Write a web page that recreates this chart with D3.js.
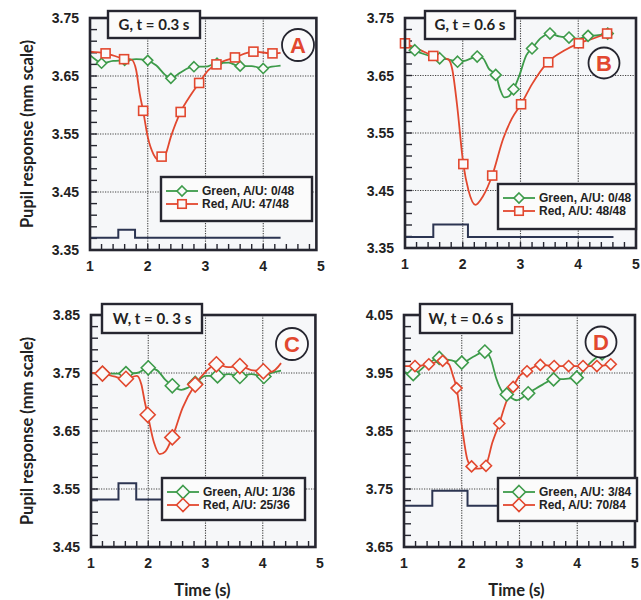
<!DOCTYPE html>
<html>
<head>
<meta charset="utf-8">
<script src="https://cdn.jsdelivr.net/npm/d3@7"></script>
<style>
  body { margin: 0; background: #fff; }
  svg { display: block; }
  .tick-lab { font-family: "Liberation Sans", Arial, sans-serif; font-weight: bold; font-size: 14px; fill: #222; }
  .leg { font-family: "Liberation Sans", Arial, sans-serif; font-weight: bold; font-size: 12px; fill: #222; }
  .ttl { font-family: Lato, "Open Sans", sans-serif; font-weight: bold; font-size: 15px; fill: #222; }
</style>
</head>
<body>
<div id="chart"></div>
<script>
// ---- data ----
// time axis ticks
var xTicks = [1, 2, 3, 4, 5];

// panel A : G, t = 0.3 s
var aRedLineT = [1.0, 1.27, 1.59, 1.72, 1.8, 1.86, 1.92, 2.0, 2.1, 2.2, 2.3, 2.4, 2.57, 2.75, 2.89, 3.05, 3.19, 3.51, 3.83, 4.16, 4.3];
var aRedLineV = [3.692, 3.689, 3.680, 3.678, 3.66, 3.62, 3.59, 3.545, 3.515, 3.505, 3.513, 3.545, 3.588, 3.618, 3.638, 3.660, 3.670, 3.682, 3.692, 3.689, 3.690];
var aGreenLineT = [1.0, 1.1, 1.2, 1.4, 1.59, 1.8, 1.98, 2.15, 2.3, 2.4, 2.55, 2.79, 3.0, 3.19, 3.4, 3.58, 3.8, 4.0, 4.15, 4.3];
var aGreenLineV = [3.686, 3.678, 3.672, 3.676, 3.677, 3.679, 3.677, 3.668, 3.652, 3.646, 3.655, 3.666, 3.666, 3.672, 3.673, 3.667, 3.667, 3.663, 3.666, 3.668];
var aRedMarkT = [1.27, 1.59, 1.92, 2.24, 2.57, 2.89, 3.19, 3.51, 3.83, 4.16];
var aRedMarkV = [3.689, 3.679, 3.590, 3.511, 3.588, 3.638, 3.670, 3.682, 3.692, 3.689];
var aGreenMarkT = [1.2, 1.6, 2.0, 2.4, 2.8, 3.2, 3.6, 4.0];
var aGreenMarkV = [3.672, 3.677, 3.677, 3.646, 3.666, 3.672, 3.667, 3.663];
var aStimT = [1.0, 1.49, 1.49, 1.78, 1.78, 4.3];
var aStimV = [3.371, 3.371, 3.385, 3.385, 3.371, 3.371];

// panel B : G, t = 0.6 s
var bRedLineT = [1.0, 1.25, 1.49, 1.75, 1.82, 1.9, 2.01, 2.1, 2.22, 2.35, 2.51, 2.7, 2.85, 3.01, 3.2, 3.47, 3.75, 4.01, 4.25, 4.5];
var bRedLineV = [3.706, 3.695, 3.684, 3.678, 3.66, 3.60, 3.496, 3.45, 3.425, 3.44, 3.476, 3.54, 3.575, 3.600, 3.635, 3.673, 3.693, 3.706, 3.714, 3.723];
var bGreenLineT = [1.0, 1.17, 1.4, 1.6, 1.75, 1.91, 2.05, 2.25, 2.35, 2.45, 2.57, 2.65, 2.72, 2.8, 2.88, 2.98, 3.1, 3.2, 3.35, 3.51, 3.67, 3.84, 4.0, 4.17, 4.35, 4.51];
var bGreenLineV = [3.706, 3.694, 3.685, 3.680, 3.678, 3.674, 3.676, 3.683, 3.680, 3.662, 3.651, 3.625, 3.612, 3.614, 3.626, 3.650, 3.685, 3.697, 3.715, 3.723, 3.718, 3.716, 3.714, 3.719, 3.720, 3.723];
var bRedMarkT = [1.0, 1.49, 2.01, 2.51, 3.01, 3.48, 4.01, 4.5];
var bRedMarkV = [3.706, 3.684, 3.496, 3.476, 3.600, 3.673, 3.706, 3.723];
var bGreenMarkT = [1.17, 1.6, 1.91, 2.25, 2.57, 2.88, 3.2, 3.51, 3.84, 4.17, 4.51];
var bGreenMarkV = [3.694, 3.680, 3.674, 3.683, 3.651, 3.626, 3.697, 3.723, 3.716, 3.719, 3.723];
var bStimT = [1.0, 1.49, 1.49, 2.09, 2.09, 4.61];
var bStimV = [3.369, 3.369, 3.391, 3.391, 3.369, 3.369];

// panel C : W, t = 0.3 s
var cRedLineT = [1.0, 1.2, 1.4, 1.61, 1.8, 1.88, 1.94, 1.99, 2.1, 2.2, 2.3, 2.42, 2.6, 2.82, 3.0, 3.19, 3.4, 3.6, 3.8, 4.01, 4.15, 4.32];
var cRedLineV = [3.750, 3.749, 3.744, 3.740, 3.745, 3.73, 3.70, 3.678, 3.63, 3.610, 3.615, 3.639, 3.69, 3.730, 3.752, 3.765, 3.760, 3.762, 3.755, 3.753, 3.752, 3.767];
var cGreenLineT = [1.0, 1.2, 1.61, 1.8, 2.0, 2.15, 2.3, 2.42, 2.58, 2.7, 2.82, 3.0, 3.21, 3.4, 3.6, 3.8, 4.02, 4.15, 4.32];
var cGreenLineV = [3.750, 3.749, 3.749, 3.750, 3.759, 3.755, 3.738, 3.728, 3.721, 3.725, 3.732, 3.745, 3.745, 3.748, 3.744, 3.748, 3.744, 3.750, 3.754];
var cRedMarkT = [1.2, 1.61, 1.99, 2.42, 2.82, 3.19, 3.6, 4.01];
var cRedMarkV = [3.749, 3.740, 3.678, 3.639, 3.730, 3.765, 3.762, 3.753];
var cGreenMarkT = [1.2, 1.61, 2.0, 2.42, 2.82, 3.21, 3.6, 4.02];
var cGreenMarkV = [3.749, 3.749, 3.759, 3.728, 3.732, 3.745, 3.744, 3.744];
var cStimT = [1.0, 1.48, 1.48, 1.79, 1.79, 4.3];
var cStimV = [3.532, 3.532, 3.560, 3.560, 3.532, 3.532];

// panel D : W, t = 0.6 s
var dRedLineT = [1.0, 1.19, 1.43, 1.67, 1.78, 1.85, 1.91, 2.0, 2.1, 2.2, 2.3, 2.42, 2.53, 2.65, 2.77, 2.89, 3.0, 3.13, 3.36, 3.6, 4.1, 4.34, 4.58];
var dRedLineV = [3.962, 3.962, 3.965, 3.971, 3.965, 3.945, 3.924, 3.86, 3.80, 3.785, 3.785, 3.792, 3.83, 3.863, 3.90, 3.926, 3.945, 3.953, 3.964, 3.962, 3.962, 3.962, 3.965];
var dGreenLineT = [1.0, 1.16, 1.4, 1.61, 1.8, 2.0, 2.2, 2.4, 2.5, 2.6, 2.7, 2.78, 2.95, 3.15, 3.4, 3.59, 3.8, 3.99, 4.2, 4.43, 4.55];
var dGreenLineV = [3.952, 3.948, 3.965, 3.976, 3.972, 3.968, 3.978, 3.987, 3.975, 3.94, 3.918, 3.913, 3.903, 3.915, 3.930, 3.939, 3.940, 3.942, 3.965, 3.984, 3.99];
var dRedMarkT = [1.19, 1.43, 1.67, 1.91, 2.17, 2.42, 2.65, 2.89, 3.13, 3.36, 3.60, 3.85, 4.10, 4.34, 4.58];
var dRedMarkV = [3.962, 3.965, 3.971, 3.924, 3.789, 3.790, 3.863, 3.926, 3.953, 3.964, 3.962, 3.962, 3.962, 3.962, 3.965];
var dGreenMarkT = [1.16, 1.61, 2.0, 2.4, 2.78, 3.15, 3.59, 3.99, 4.43];
var dGreenMarkV = [3.948, 3.976, 3.968, 3.987, 3.913, 3.915, 3.939, 3.942, 3.984];
var dStimT = [1.0, 1.49, 1.49, 2.10, 2.10, 4.6];
var dStimV = [3.721, 3.721, 3.747, 3.747, 3.721, 3.721];

var zip = function(t, v) { return t.map(function(d, i) { return [d, v[i]]; }); };

var GREEN = "#3d9b4a", RED = "#e2482f", INK = "#262630", STIM = "#2c3552";

var panels = [
  { title: "G, t = 0.3 s", tag: "A", yDom: [3.35, 3.75], xr: [90, 321], yr: [250, 18], xEnd: 4.92,
    red: zip(aRedLineT, aRedLineV), green: zip(aGreenLineT, aGreenLineV),
    redM: zip(aRedMarkT, aRedMarkV), greenM: zip(aGreenMarkT, aGreenMarkV), stim: zip(aStimT, aStimV),
    redShape: "square", redSize: 9, greenSize: 5,
    box: [108, 11, 92, 27], circ: [298, 45, 16], leg: [161, 177, 151, 44],
    legText: ["Green, A/U: 0/48", "Red, A/U: 47/48"], yTitle: true, xTitle: false },
  { title: "G, t = 0.6 s", tag: "B", yDom: [3.35, 3.75], xr: [405, 636], yr: [248, 18], xEnd: 5,
    red: zip(bRedLineT, bRedLineV), green: zip(bGreenLineT, bGreenLineV),
    redM: zip(bRedMarkT, bRedMarkV), greenM: zip(bGreenMarkT, bGreenMarkV), stim: zip(bStimT, bStimV),
    redShape: "square", redSize: 9, greenSize: 5.5,
    box: [425, 11, 90, 28], circ: [604, 63, 15.5], leg: [498, 184, 138, 45],
    legText: ["Green, A/U: 0/48", "Red, A/U: 48/48"], yTitle: false, xTitle: false },
  { title: "W, t = 0. 3 s", tag: "C", yDom: [3.45, 3.85], xr: [91, 320], yr: [547, 315], xEnd: 4.92,
    red: zip(cRedLineT, cRedLineV), green: zip(cGreenLineT, cGreenLineV),
    redM: zip(cRedMarkT, cRedMarkV), greenM: zip(cGreenMarkT, cGreenMarkV), stim: zip(cStimT, cStimV),
    redShape: "diamond", redSize: 7.5, greenSize: 7,
    box: [102, 304, 100, 29], circ: [292, 344, 16], leg: [162, 478, 143, 42],
    legText: ["Green, A/U: 1/36", "Red, A/U: 25/36"], yTitle: true, xTitle: true },
  { title: "W, t = 0.6 s", tag: "D", yDom: [3.65, 4.05], xr: [404, 635], yr: [547, 315], xEnd: 5,
    red: zip(dRedLineT, dRedLineV), green: zip(dGreenLineT, dGreenLineV),
    redM: zip(dRedMarkT, dRedMarkV), greenM: zip(dGreenMarkT, dGreenMarkV), stim: zip(dStimT, dStimV),
    redShape: "diamond", redSize: 5.5, greenSize: 6.5,
    box: [420, 304, 92, 29], circ: [601, 342, 15.5], leg: [498, 478, 139, 43],
    legText: ["Green, A/U: 3/84", "Red, A/U: 70/84"], yTitle: false, xTitle: true }
];

var svg = d3.select("#chart").append("svg")
  .attr("width", 641)
  .attr("height", 600);

function marker(g, shape, cx, cy, s, color) {
  if (shape === "square") {
    g.append("rect")
      .attr("x", cx - s / 2).attr("y", cy - s / 2)
      .attr("width", s).attr("height", s)
      .attr("fill", "#fafafa").attr("stroke", color).attr("stroke-width", 1.6);
  } else {
    g.append("path")
      .attr("d", "M" + cx + "," + (cy - s) + "L" + (cx + s) + "," + cy + "L" + cx + "," + (cy + s) + "L" + (cx - s) + "," + cy + "Z")
      .attr("fill", "#fafafa").attr("stroke", color).attr("stroke-width", 1.6);
  }
}

panels.forEach(function(p) {
  var x = d3.scaleLinear().domain([1, 5]).range(p.xr);
  var y = d3.scaleLinear().domain(p.yDom).range(p.yr);
  var g = svg.append("g");
  var left = x(1), right = x(p.xEnd), top = y(p.yDom[1]), bottom = y(p.yDom[0]);

  // plot background
  g.append("rect").attr("x", left).attr("y", top)
    .attr("width", right - left).attr("height", bottom - top)
    .attr("fill", "#f6f7f9");

  // dotted grid
  var yMaj = d3.range(5).map(function(i) { return p.yDom[0] + i * 0.1; });
  g.selectAll(".gx").data([2, 3, 4]).enter().append("line")
    .attr("x1", function(d) { return x(d); }).attr("x2", function(d) { return x(d); })
    .attr("y1", top).attr("y2", bottom)
    .attr("stroke", "#444").attr("stroke-width", 1.1).attr("stroke-dasharray", "1.2,1.3");
  g.selectAll(".gy").data(yMaj.slice(1, 4)).enter().append("line")
    .attr("x1", left).attr("x2", right)
    .attr("y1", function(d) { return y(d); }).attr("y2", function(d) { return y(d); })
    .attr("stroke", "#444").attr("stroke-width", 1.1).attr("stroke-dasharray", "1.2,1.3");

  // minor ticks, inside the frame
  var yMinor = d3.range(21).map(function(i) { return p.yDom[0] + i * 0.02; });
  g.selectAll(".my").data(yMinor).enter().append("line")
    .attr("x1", left).attr("x2", left + 7)
    .attr("y1", function(d) { return y(d); }).attr("y2", function(d) { return y(d); })
    .attr("stroke", INK).attr("stroke-width", 1.4);
  var xMinor = d3.range(21).map(function(i) { return 1 + i * 0.2; }).filter(function(d) { return d <= p.xEnd; });
  g.selectAll(".mx").data(xMinor).enter().append("line")
    .attr("x1", function(d) { return x(d); }).attr("x2", function(d) { return x(d); })
    .attr("y1", bottom).attr("y2", bottom - 6)
    .attr("stroke", INK).attr("stroke-width", 1.4);

  // tick labels
  g.selectAll(".yl").data(yMaj).enter().append("text")
    .attr("class", "tick-lab")
    .attr("x", left - 11).attr("y", function(d) { return y(d); })
    .attr("dy", "0.36em").attr("text-anchor", "end")
    .text(function(d) { return d.toFixed(2); });
  g.selectAll(".xl").data(xTicks).enter().append("text")
    .attr("class", "tick-lab")
    .attr("x", function(d) { return x(d); }).attr("y", bottom + 21)
    .attr("text-anchor", "middle")
    .text(function(d) { return d; });

  var line = d3.line()
    .x(function(d) { return x(d[0]); })
    .y(function(d) { return y(d[1]); });

  // stimulus trace
  g.append("path").datum(p.stim).attr("d", line)
    .attr("fill", "none").attr("stroke", STIM).attr("stroke-width", 2);

  var smooth = d3.line().curve(d3.curveMonotoneX)
    .x(function(d) { return x(d[0]); })
    .y(function(d) { return y(d[1]); });

  g.append("path").datum(p.green).attr("d", smooth)
    .attr("fill", "none").attr("stroke", GREEN).attr("stroke-width", 1.8);
  g.append("path").datum(p.red).attr("d", smooth)
    .attr("fill", "none").attr("stroke", RED).attr("stroke-width", 1.8);

  p.greenM.forEach(function(d) { marker(g, "diamond", x(d[0]), y(d[1]), p.greenSize, GREEN); });
  p.redM.forEach(function(d) { marker(g, p.redShape, x(d[0]), y(d[1]), p.redSize, RED); });

  // frame
  g.append("rect").attr("x", left).attr("y", top)
    .attr("width", right - left).attr("height", bottom - top)
    .attr("fill", "none").attr("stroke", INK).attr("stroke-width", 2.6);

  // title box
  g.append("rect").attr("x", p.box[0]).attr("y", p.box[1])
    .attr("width", p.box[2]).attr("height", p.box[3])
    .attr("fill", "#fbfbfb").attr("stroke", INK).attr("stroke-width", 2.4);
  g.append("text").attr("class", "ttl")
    .attr("x", p.box[0] + p.box[2] / 2).attr("y", p.box[1] + p.box[3] / 2)
    .attr("dy", "0.36em").attr("text-anchor", "middle")
    .text(p.title);

  // panel letter
  g.append("circle").attr("cx", p.circ[0]).attr("cy", p.circ[1]).attr("r", p.circ[2])
    .attr("fill", "#fbfbfb").attr("stroke", INK).attr("stroke-width", 1.8);
  g.append("text")
    .attr("x", p.circ[0]).attr("y", p.circ[1]).attr("dy", "0.36em")
    .attr("text-anchor", "middle")
    .style("font-family", "'Liberation Sans', Arial, sans-serif")
    .style("font-weight", "bold").style("font-size", "22px")
    .attr("fill", RED)
    .text(p.tag);

  // legend
  var L = p.leg;
  g.append("rect").attr("x", L[0]).attr("y", L[1]).attr("width", L[2]).attr("height", L[3])
    .attr("fill", "#fbfbfb").attr("stroke", INK).attr("stroke-width", 2.4);
  var rows = [
    { c: GREEN, shape: "diamond", s: p.redShape === "square" ? 5 : 6.5, t: p.legText[0] },
    { c: RED, shape: p.redShape, s: p.redShape === "square" ? 8.5 : 6.5, t: p.legText[1] }
  ];
  rows.forEach(function(r, i) {
    var ry = L[1] + 14 + i * 13;
    g.append("line").attr("x1", L[0] + 5).attr("x2", L[0] + 37)
      .attr("y1", ry).attr("y2", ry)
      .attr("stroke", r.c).attr("stroke-width", 1.8);
    marker(g, r.shape, L[0] + 21, ry, r.s, r.c);
    g.append("text").attr("class", "leg")
      .attr("x", L[0] + 41).attr("y", ry).attr("dy", "0.36em")
      .text(r.t);
  });

  // axis titles
  if (p.yTitle) {
    g.append("text").attr("class", "ttl")
      .attr("transform", "translate(27," + ((top + bottom) / 2) + ") rotate(-90)")
      .attr("text-anchor", "middle").attr("dy", "0.36em")
      .style("font-size", "16.5px")
      .text("Pupil response (mm scale)");
  }
  if (p.xTitle) {
    g.append("text").attr("class", "ttl")
      .attr("x", (p.xr[0] + p.xr[1]) / 2 - 3).attr("y", 590)
      .attr("text-anchor", "middle").attr("dy", "0.36em")
      .style("font-size", "16.5px")
      .text("Time (s)");
  }
});
</script>
</body>
</html>
